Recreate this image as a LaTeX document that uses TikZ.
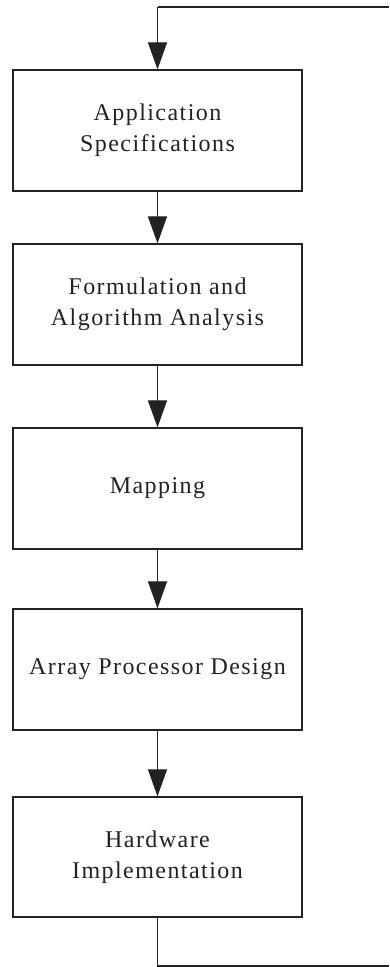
\documentclass[tikz,border=0pt]{standalone}
\usepackage{fontspec}
\setmainfont{Liberation Serif}[LetterSpace=6]
\usetikzlibrary{arrows.meta}
\definecolor{ink}{HTML}{222222}
\tikzset{
  stagebox/.style={draw=ink, line width=1.2pt, minimum width=289pt, inner sep=0pt, align=center, text=ink,
    font=\fontsize{24}{31}\selectfont},
  flow/.style={draw=ink, line width=1.2pt, -{Triangle[length=27pt,width=19pt]}},
  plain/.style={draw=ink, line width=1.2pt}
}
\begin{document}
\begin{tikzpicture}[x=1pt,y=1pt]
\useasboundingbox (0,0) rectangle (389,967);
\node[stagebox, minimum height=121pt] (s1) at (157.5,836.5) {Application\\Specifications};
\node[stagebox, minimum height=121pt] (s2) at (157.5,662.5) {Formulation and\\Algorithm Analysis};
\node[stagebox, minimum height=121pt] (s3) at (157.5,478.5) {Mapping};
\node[stagebox, minimum height=121pt] (s4) at (157.5,297.5) {Array Processor Design};
\node[stagebox, minimum height=120pt] (s5) at (157.5,110) {Hardware\\Implementation};
\coordinate (tl) at (157.5,960);
\coordinate (tr) at (389,960);
\coordinate (bl) at (157.5,1);
\coordinate (br) at (389,1);
\draw[flow] (s1) -- (s2);
\draw[flow] (s2) -- (s3);
\draw[flow] (s3) -- (s4);
\draw[flow] (s4) -- (s5);
\draw[plain] (tr) -- (tl);
\draw[flow] (tl) -- (s1.north);
\draw[plain] (s5.south) -- (bl) -- (br);
\end{tikzpicture}
\end{document}
